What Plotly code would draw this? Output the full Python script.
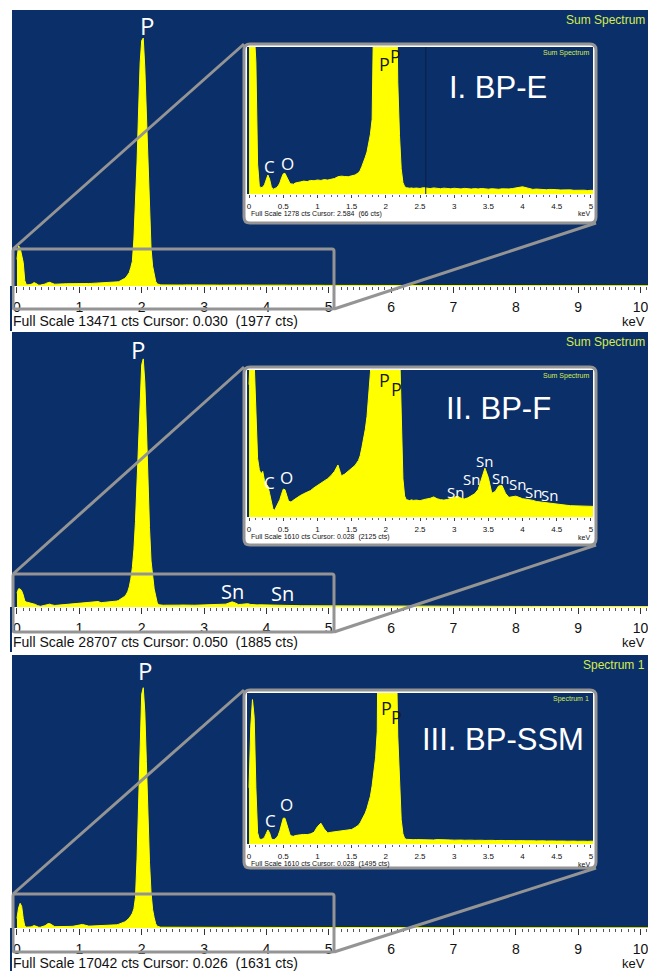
import plotly.graph_objects as go

# ---------------------------------------------------------------------------
# EDS spectra (energy in keV, counts per channel) for the three samples
# ---------------------------------------------------------------------------
energy_kev = [
    0.000, 0.025, 0.050, 0.075, 0.100, 0.125, 0.150, 0.175, 0.200, 0.225,
    0.250, 0.275, 0.300, 0.325, 0.350, 0.375, 0.400, 0.425, 0.450, 0.475,
    0.500, 0.525, 0.550, 0.575, 0.600, 0.625, 0.650, 0.675, 0.700,
    0.75, 0.80, 0.85, 0.90, 0.95, 1.00, 1.05, 1.10, 1.15, 1.20,
    1.25, 1.30, 1.35, 1.40, 1.45, 1.50, 1.55,
    1.600, 1.625, 1.650, 1.675, 1.700, 1.725, 1.750, 1.775, 1.800, 1.825,
    1.850, 1.875, 1.900, 1.925, 1.950, 1.975, 2.000, 2.025, 2.050, 2.075,
    2.100, 2.125, 2.150, 2.175, 2.200, 2.225, 2.250, 2.275, 2.300, 2.325,
    2.350, 2.375, 2.400,
    2.45, 2.50, 2.55, 2.60, 2.65, 2.70, 2.75, 2.80, 2.85, 2.90,
    2.95, 3.00, 3.05, 3.10, 3.15, 3.20, 3.25, 3.30, 3.35, 3.40,
    3.45, 3.50, 3.55, 3.60, 3.65, 3.70, 3.75, 3.80, 3.85, 3.90,
    3.95, 4.00, 4.05, 4.10, 4.15, 4.20, 4.25, 4.30, 4.35, 4.40,
    4.45, 4.50, 4.55, 4.60, 4.65, 4.70, 4.75, 4.80, 4.85, 4.90,
    4.95, 5.00,
    5.25, 5.50, 5.75, 6.00, 6.25, 6.50, 6.75, 7.00, 7.25, 7.50,
    7.75, 8.00, 8.25, 8.50, 8.75, 9.00, 9.25, 9.50, 9.75, 10.00, 10.25,
]

counts_bp_e = [
    1300, 1960, 1850, 1420, 1150, 260, 70, 55, 60, 80,
    120, 165, 130, 65, 40, 45, 55, 70, 95, 140,
    175, 180, 150, 110, 90, 88, 85, 95, 100,
    105, 112, 108, 118, 115, 122, 118, 125, 121, 128,
    135, 150, 155, 152, 150, 158, 165,
    185, 205, 240, 275, 320, 365, 430, 520, 650, 900,
    1200, 2290, 3800, 6010, 8540, 10890, 11980, 12100, 10650, 8230,
    5570, 3330, 1820, 970, 510, 220, 100, 65, 55, 52,
    50, 53, 49,
    52, 48, 55, 50, 47, 53, 49, 46, 51, 48,
    45, 50, 47, 44, 49, 46, 43, 47, 44, 48,
    45, 42, 46, 43, 41, 45, 42, 44, 47, 52,
    58, 63, 55, 46, 40, 43, 39, 41, 37, 40,
    36, 38, 35, 37, 33, 36, 32, 34, 31, 33,
    30, 32,
    30, 28, 27, 26, 25, 24, 23, 22, 21, 20,
    20, 19, 18, 17, 17, 16, 15, 15, 14, 14, 13,
]

counts_bp_f = [
    1450, 1900, 1885, 1700, 1250, 640, 520, 470, 500, 400,
    360, 340, 260, 150, 85, 75, 110, 150, 190, 250,
    305, 300, 240, 180, 165, 170, 185, 200, 215,
    235, 255, 275, 290, 320, 345, 365, 395, 420, 455,
    500, 570, 450, 470, 500, 530, 565,
    620, 670, 760, 850, 960, 1100, 1300, 1580, 2100, 2900,
    4100, 6000, 8900, 12800, 17600, 22300, 25300, 25900, 23500, 18900,
    13300, 8300, 4800, 2900, 1900, 1150, 420, 230, 190, 185,
    180, 188, 182,
    185, 178, 190, 195, 205, 220, 200, 190, 185, 192,
    205, 220, 228, 205, 198, 210, 230, 255, 300, 420,
    535, 430, 260, 280, 340, 345, 260, 215, 220, 228,
    215, 200, 195, 190, 182, 170, 165, 158, 150, 147,
    142, 138, 135, 130, 128, 124, 122, 118, 116, 113,
    112, 110,
    105, 100, 95, 90, 86, 82, 78, 74, 70, 67,
    64, 61, 58, 55, 52, 50, 48, 46, 44, 42, 40,
]

counts_bp_ssm = [
    600, 1250, 1540, 1350, 600, 120, 55, 48, 55, 70,
    110, 150, 120, 60, 45, 50, 65, 90, 140, 220,
    275, 275, 215, 140, 95, 85, 82, 90, 95,
    98, 102, 100, 108, 125, 185, 222, 160, 118, 125,
    130, 138, 135, 140, 145, 155, 175,
    200, 225, 255, 290, 330, 380, 440, 510, 620, 760,
    920, 1200, 1900, 4300, 8300, 12200, 14600, 15000, 13500, 10400,
    6900, 4100, 2200, 1150, 650, 260, 110, 60, 50, 48,
    47, 49, 46,
    47, 45, 48, 44, 46, 43, 47, 44, 42, 45,
    43, 41, 44, 42, 40, 43, 41, 39, 42, 40,
    38, 41, 39, 37, 40, 38, 36, 39, 37, 35,
    38, 36, 34, 37, 35, 33, 36, 34, 32, 35,
    33, 31, 34, 32, 30, 33, 31, 29, 32, 30,
    28, 30,
    27, 26, 25, 24, 23, 22, 21, 20, 19, 19,
    18, 17, 16, 16, 15, 14, 14, 13, 13, 12, 12,
]

spectra = [counts_bp_e, counts_bp_f, counts_bp_ssm]
sample_names = ["I. BP-E", "II. BP-F", "III. BP-SSM"]
spectrum_names = ["Sum Spectrum", "Sum Spectrum", "Spectrum 1"]
full_scale_main = [13471, 28707, 17042]
full_scale_inset = [1278, 1610, 1610]
main_readouts = [
    "Full Scale 13471 cts Cursor: 0.030  (1977 cts)",
    "Full Scale 28707 cts Cursor: 0.050  (1885 cts)",
    "Full Scale 17042 cts Cursor: 0.026  (1631 cts)",
]
inset_readouts = [
    "Full Scale 1278 cts Cursor: 2.584  (66 cts)",
    "Full Scale 1610 cts Cursor: 0.028  (2125 cts)",
    "Full Scale 1610 cts Cursor: 0.028  (1495 cts)",
]
main_tick_vals = [0, 1, 2, 3, 4, 5, 6, 7, 8, 9, 10]
inset_tick_vals = [0, 0.5, 1, 1.5, 2, 2.5, 3, 3.5, 4, 4.5, 5]
inset_tick_text = ["0", "0.5", "1", "1.5", "2", "2.5", "3", "3.5", "4", "4.5", "5"]
inset_cursor_kev = 2.584

# ---------------------------------------------------------------------------
# Page geometry (pixels) and styling
# ---------------------------------------------------------------------------
W, H = 648, 971
NAVY = "#0b2f68"
YELLOW = "#ffff00"
FRAME = "#949494"
LIME = "#d4ec50"
INK = "#111111"
SANS = "Liberation Sans, Arial, sans-serif"
TAG_FONT = "Open Sans, Noto Sans, sans-serif"

MAIN_LEFT, MAIN_RIGHT = 12, 648
MAIN_TOP = [10, 332, 655]
MAIN_BASE = [286, 607, 928]
INSET_LEFT, INSET_RIGHT = 247, 593
INSET_TOP = [47, 370, 693]
INSET_BASE = [194, 517, 844]
FRAME_LEFT, FRAME_RIGHT = 244, 596
FRAME_TOP = [44, 367, 690]
FRAME_BOTTOM = [223, 545, 868]
BOX_LEFT, BOX_RIGHT = 13, 334
BOX_TOP = [249, 574, 894]
BOX_BOTTOM = [309, 632, 952]


def fx(px):
    return px / W


def fy(py):
    return 1 - py / H


def rounded_path(x0, y0, x1, y1, r):
    pts = [
        f"M {fx(x0 + r)},{fy(y0)}", f"L {fx(x1 - r)},{fy(y0)}",
        f"Q {fx(x1)},{fy(y0)} {fx(x1)},{fy(y0 + r)}", f"L {fx(x1)},{fy(y1 - r)}",
        f"Q {fx(x1)},{fy(y1)} {fx(x1 - r)},{fy(y1)}", f"L {fx(x0 + r)},{fy(y1)}",
        f"Q {fx(x0)},{fy(y1)} {fx(x0)},{fy(y1 - r)}", f"L {fx(x0)},{fy(y0 + r)}",
        f"Q {fx(x0)},{fy(y0)} {fx(x0 + r)},{fy(y0)}", "Z",
    ]
    return " ".join(pts)


def note(text, px, py, size, color, family=SANS, xanchor="center", yanchor="middle"):
    return dict(text=text, x=fx(px), y=fy(py), xref="paper", yref="paper",
                xanchor=xanchor, yanchor=yanchor, showarrow=False,
                font=dict(size=size, color=color, family=family))


fig = go.Figure()
layout = dict(
    width=W, height=H, margin=dict(l=0, r=0, t=0, b=0),
    paper_bgcolor="white", plot_bgcolor=NAVY, showlegend=False,
    hovermode=False,
)
annotations = []
shapes = []

for i in range(3):
    m, n = i + 1, i + 4
    xm, ym = ("x", "y") if m == 1 else (f"x{m}", f"y{m}")
    xn, yn = f"x{n}", f"y{n}"
    counts = spectra[i]

    # full 0-10 keV spectrum
    fig.add_trace(go.Scatter(
        x=energy_kev, y=counts, mode="lines", xaxis=xm, yaxis=ym,
        line=dict(color=YELLOW, width=1), fill="tozeroy", fillcolor=YELLOW,
        hoverinfo="skip"))
    # 0-5 keV zoomed spectrum
    fig.add_trace(go.Scatter(
        x=energy_kev, y=counts, mode="lines", xaxis=xn, yaxis=yn,
        line=dict(color=YELLOW, width=1), fill="tozeroy", fillcolor=YELLOW,
        hoverinfo="skip"))

    xkey_m = "xaxis" if m == 1 else f"xaxis{m}"
    ykey_m = "yaxis" if m == 1 else f"yaxis{m}"
    layout[xkey_m] = dict(
        domain=[fx(MAIN_LEFT), fx(MAIN_RIGHT)], anchor=ym, range=[-0.08, 10.12],
        tickmode="array", tickvals=main_tick_vals,
        ticks="outside", ticklen=6, tickwidth=1, tickcolor="#333333",
        minor=dict(dtick=0.1, ticks="outside", ticklen=3, tickcolor="#555555"),
        tickfont=dict(family=SANS, size=14, color=INK), ticklabelstandoff=2,
        ticklabeloverflow="allow",
        showgrid=False, zeroline=False, showline=False, fixedrange=True)
    layout[ykey_m] = dict(
        domain=[fy(MAIN_BASE[i]), fy(MAIN_TOP[i])], anchor=xm,
        range=[0, full_scale_main[i]], visible=False, fixedrange=True)

    layout[f"xaxis{n}"] = dict(
        domain=[fx(INSET_LEFT), fx(INSET_RIGHT)], anchor=yn, range=[-0.03, 5.03],
        tickmode="array", tickvals=inset_tick_vals, ticktext=inset_tick_text,
        ticks="outside", ticklen=3, tickwidth=1, tickcolor="#444444",
        minor=dict(dtick=0.1, ticks="outside", ticklen=2, tickcolor="#666666"),
        tickfont=dict(family=SANS, size=8, color=INK), ticklabelstandoff=1,
        showgrid=False, zeroline=False, showline=False, fixedrange=True)
    layout[f"yaxis{n}"] = dict(
        domain=[fy(INSET_BASE[i]), fy(INSET_TOP[i])], anchor=xn,
        range=[0, full_scale_inset[i]], visible=False, fixedrange=True)

    # white card behind the zoomed view
    shapes.append(dict(type="path", xref="paper", yref="paper", layer="below",
                       path=rounded_path(FRAME_LEFT, FRAME_TOP[i], FRAME_RIGHT,
                                         FRAME_BOTTOM[i], 6),
                       fillcolor="white", line=dict(width=0)))
    # card outline, zoom window and its guide lines
    shapes.append(dict(type="path", xref="paper", yref="paper", layer="above",
                       path=rounded_path(FRAME_LEFT, FRAME_TOP[i], FRAME_RIGHT,
                                         FRAME_BOTTOM[i], 6),
                       line=dict(color=FRAME, width=3)))
    shapes.append(dict(type="path", xref="paper", yref="paper", layer="above",
                       path=rounded_path(BOX_LEFT, BOX_TOP[i], BOX_RIGHT,
                                         BOX_BOTTOM[i], 2),
                       line=dict(color=FRAME, width=3)))
    shapes.append(dict(type="line", xref="paper", yref="paper", layer="above",
                       x0=fx(BOX_LEFT), y0=fy(BOX_TOP[i]),
                       x1=fx(FRAME_LEFT), y1=fy(FRAME_TOP[i]),
                       line=dict(color=FRAME, width=3)))
    shapes.append(dict(type="line", xref="paper", yref="paper", layer="above",
                       x0=fx(BOX_RIGHT), y0=fy(BOX_BOTTOM[i]),
                       x1=fx(FRAME_RIGHT), y1=fy(FRAME_BOTTOM[i]),
                       line=dict(color=FRAME, width=3)))
    # dark window edge beside the readout strip
    shapes.append(dict(type="line", xref="paper", yref="paper", layer="above",
                       x0=fx(11), y0=fy(MAIN_BASE[i]), x1=fx(11),
                       y1=fy(MAIN_BASE[i] + 45),
                       line=dict(color=NAVY, width=2)))

    # readouts and captions
    annotations.append(note(main_readouts[i], 11, MAIN_BASE[i] + 35, 14, INK,
                            xanchor="left"))
    annotations.append(note("keV", 647, MAIN_BASE[i] + 35, 13, INK, xanchor="right"))
    annotations.append(note(spectrum_names[i], 647, MAIN_TOP[i] + 10, 12, LIME,
                            xanchor="right"))
    annotations.append(note(inset_readouts[i], 249, INSET_BASE[i] + 20, 7, INK,
                            xanchor="left"))
    annotations.append(note("keV", 592, INSET_BASE[i] + 20, 7, INK, xanchor="right"))
    annotations.append(note(spectrum_names[i], 591, INSET_TOP[i] + 6, 7, LIME,
                            xanchor="right"))
    annotations.append(note(sample_names[i], 498 if i < 2 else 503,
                            [87, 409, 739][i], 31, "white"))

shapes.append(dict(type="line", xref="x4", yref="y4 domain", layer="above",
                   x0=inset_cursor_kev, x1=inset_cursor_kev, y0=0, y1=1,
                   line=dict(color="#05214f", width=1)))

# element tags on the peaks
for text, px, py, size, color in [
    ("P", 147, 25, 24, "white"), ("P", 138, 350, 24, "white"), ("P", 145, 670, 24, "white"),
    ("Sn", 232, 591, 20, "white"), ("Sn", 282, 593, 20, "white"),
    ("C", 269, 166, 17, "white"), ("O", 287, 163, 17, "white"),
    ("C", 269, 482, 17, "white"), ("O", 286, 477, 17, "white"),
    ("C", 270, 820, 17, "white"), ("O", 286, 804, 17, "white"),
    ("P", 384, 64, 18, "#1a1a1a"), ("P", 395, 56, 18, "#1a1a1a"),
    ("P", 384, 380, 18, "#1a1a1a"), ("P", 396, 389, 18, "#1a1a1a"),
    ("P", 386, 708, 18, "#1a1a1a"), ("P", 397, 717, 18, "#1a1a1a"),
    ("Sn", 455, 492, 15, "white"), ("Sn", 471, 479, 15, "white"),
    ("Sn", 484, 461, 15, "white"), ("Sn", 500, 478, 15, "white"),
    ("Sn", 517, 484, 15, "white"), ("Sn", 533, 492, 15, "white"),
    ("Sn", 549, 495, 15, "white"),
]:
    annotations.append(note(text, px, py, size, color, family=TAG_FONT))

layout["annotations"] = annotations
layout["shapes"] = shapes
fig.update_layout(**layout)
fig.write_html("out.html")
